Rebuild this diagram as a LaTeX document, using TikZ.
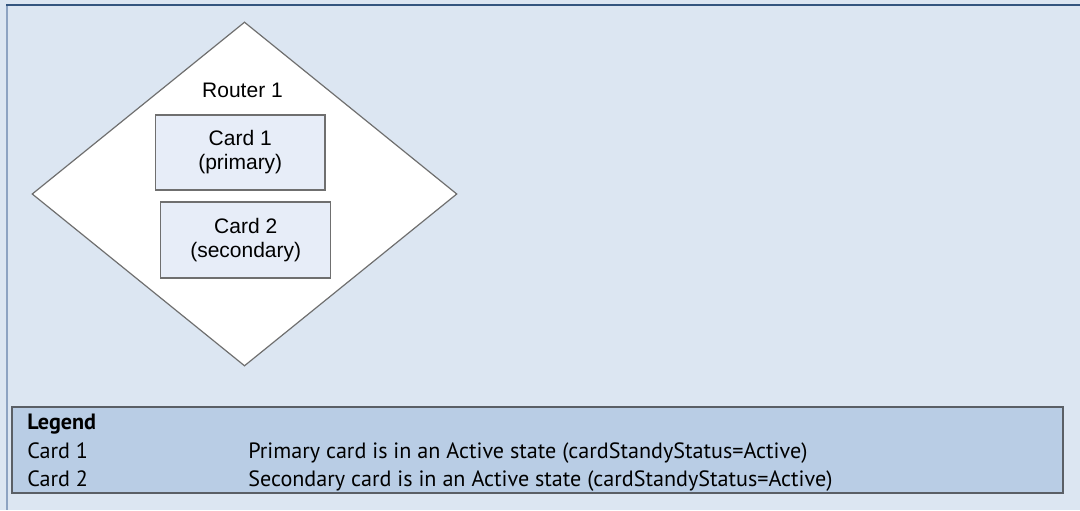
\documentclass[tikz,border=0pt]{standalone}
\usepackage{fontspec}
\setmainfont{Liberation Sans}
\newfontfamily\legendfont{PT Sans}
\usetikzlibrary{shapes.geometric}
\definecolor{bgblue}{HTML}{DCE6F2}
\definecolor{topline}{HTML}{34557F}
\definecolor{leftline}{HTML}{8DA3C2}
\definecolor{cardfill}{HTML}{E7EDF8}
\definecolor{legfill}{HTML}{B9CDE5}
\definecolor{shapeline}{HTML}{6F6F6F}
\definecolor{legline}{HTML}{5A5F66}
\tikzset{
  routershape/.style={diamond, draw=shapeline, fill=white, line width=0.9pt, inner sep=0pt,
    minimum width=318.75pt, minimum height=258pt},
  cardbox/.style={draw=shapeline, fill=cardfill, line width=1.1pt, inner sep=0pt,
    align=center, font=\fontsize{15.75}{18}\selectfont},
  legendbox/.style={draw=legline, fill=legfill, line width=1.5pt, inner sep=0pt,
    minimum width=788.25pt, minimum height=64.5pt},
  legtext/.style={anchor=base west, inner sep=0pt, font=\legendfont\fontsize{16.6}{18}\selectfont},
}
\begin{document}
\begin{tikzpicture}[x=0.75pt, y=-0.75pt]
\useasboundingbox (0,0) rectangle (1080,510);
\fill[bgblue] (0,0) rectangle (1080,510);
\draw[leftline, line width=1.5pt] (6.7,5) -- (6.7,510);
\draw[topline, line width=1.5pt] (6,5) -- (1080,5);

\node[routershape] (router) at (244.5,194) {};
\node[anchor=base, inner sep=0pt, font=\fontsize{15.75}{18}\selectfont] (routerlbl) at (242.5,97) {Router 1};
\node[cardbox, minimum width=127pt, minimum height=56.25pt] (card1) at (240.25,152.5) {Card 1\\(primary)};
\node[cardbox, minimum width=127.5pt, minimum height=57pt] (card2) at (245.7,240) {Card 2\\(secondary)};

\node[legendbox] (legend) at (537.5,450) {};
\node[legtext, font=\legendfont\bfseries\fontsize{16.6}{18}\selectfont] (legtitle) at (27,429) {Legend};
\node[legtext] (leg1a) at (27,458) {Card 1};
\node[legtext] (leg2a) at (27,486) {Card 2};
\node[legtext] (leg1b) at (248,458) {Primary card is in an Active state (cardStandyStatus=Active)};
\node[legtext] (leg2b) at (248,486) {Secondary card is in an Active state (cardStandyStatus=Active)};
\end{tikzpicture}
\end{document}
